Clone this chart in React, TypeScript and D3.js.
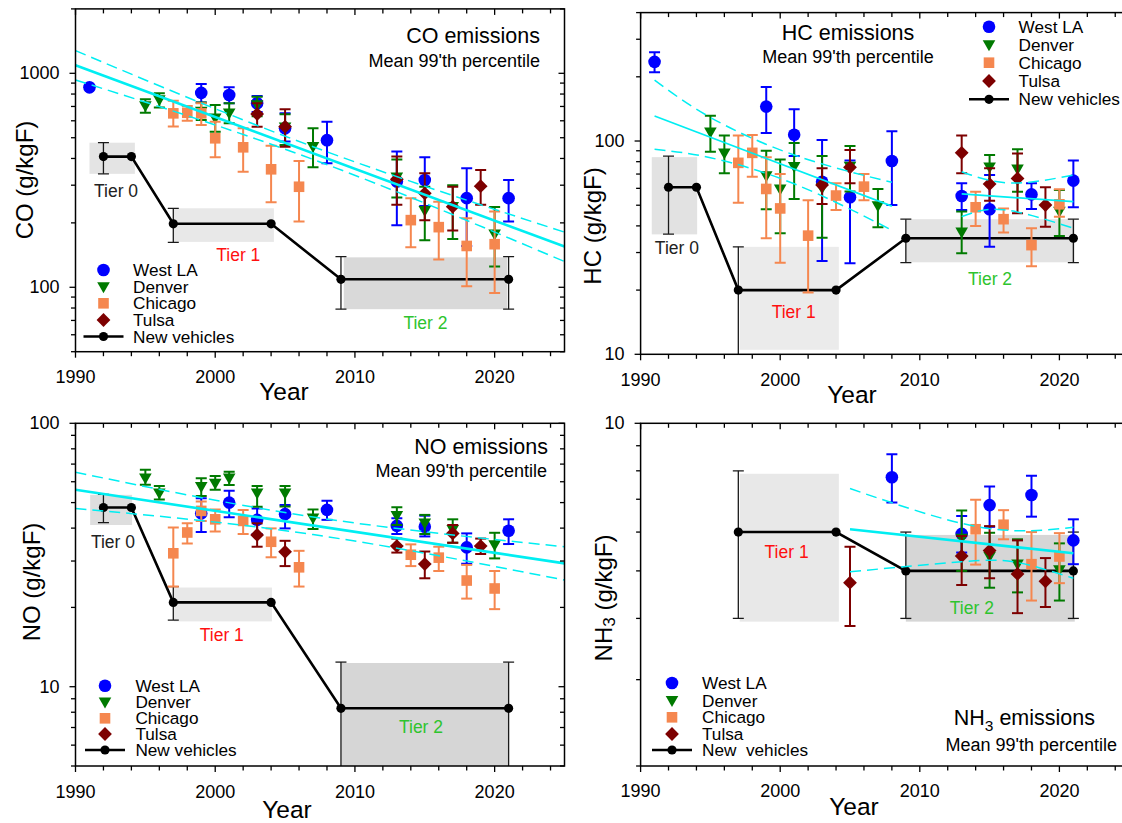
import React from 'react';
import * as d3 from 'd3';

type Pt = [number, number, number | null, number | null]; // year, value, low, high
type XY = [number, number];
type Box = [number, number, number, number]; // year0, year1, vLow, vHigh
type TierLabel = [string, number, number]; // text, year, value

// ---------------- CO ----------------
const coWestLA: Pt[] = [
  [1991, 860, null, null], [1999, 810, 730, 891], [2001, 792, 725, 860], [2003, 724, 660, 783],
  [2005, 553, 480, 650], [2008, 487, 380, 594], [2013, 312, 195, 431], [2015, 317, 240, 405],
  [2018, 261, 156, 360], [2021, 261, 203, 317],
];
const coDenver: Pt[] = [
  [1995, 703, 655, 756], [1996, 750, 693, 807], [1999, 662, 605, 730], [2000, 617, 533, 711],
  [2001, 650, 584, 724], [2003, 711, 630, 778], [2005, 560, 462, 643], [2007, 454, 364, 553],
  [2013, 327, 263, 396], [2015, 228, 166, 295], [2017, 238, 168, 300], [2020, 177, 125, 237],
];
const coChicago: Pt[] = [
  [1997, 650, 564, 745], [1998, 654, 600, 703], [1999, 650, 573, 724], [2000, 497, 405, 594],
  [2002, 451, 347, 553], [2004, 356, 250, 459], [2006, 295, 203, 389], [2014, 206, 154, 261],
  [2016, 191, 135, 251], [2018, 156, 101, 210], [2020, 159, 94, 226],
];
const coTulsa: Pt[] = [
  [2003, 645, 563, 724], [2005, 563, 454, 680], [2013, 320, 243, 408], [2015, 275, 206, 341],
  [2017, 238, 184, 295], [2019, 297, 243, 353],
];
const coNew: Pt[] = [
  [1992, 408, 339, 474], [1994, 408, null, null], [1997, 198, 162, 234], [2004, 198, null, null],
  [2009, 109, 79, 139], [2021, 109, 79, 139],
];
const coBoxes: Box[] = [[1991, 1994.25, 339, 474], [1997.05, 2004.2, 163, 234], [2009.2, 2020.9, 79, 138]];
const coFitMid: XY[] = [[1990, 1090], [2025, 155]];
const coFitHi: XY[] = [[1990, 1276], [2007, 454], [2025, 181]];
const coFitLo: XY[] = [[1990, 931], [2007, 396], [2025, 132]];
const coTierLabels: TierLabel[] = [['Tier 0', 1992.9, 282], ['Tier 1', 2001.65, 141.6], ['Tier 2', 2015.05, 68.3]];

// ---------------- HC ----------------
const hcWestLA: Pt[] = [
  [1991, 235, 210, 261], [1999, 145, 109, 179], [2001, 107, 85, 141], [2003, 64.4, 27.4, 101],
  [2005, 54.5, 26.7, 81], [2008, 80.6, 50.1, 111], [2013, 55.2, 47.5, 63.4], [2015, 47.9, 31.9, 69.3],
  [2018, 56.2, 48, 63.4], [2021, 65.2, 48.9, 81],
];
const hcDenver: Pt[] = [
  [1995, 110, 89, 131.5], [1996, 87.5, 70.6, 106], [1999, 68.5, 47.9, 90], [2000, 59.3, 36.9, 82],
  [2001, 75.8, 53.5, 98], [2003, 60, 35.2, 85], [2005, 76, 58, 94.8], [2007, 49.5, 39.4, 59.6],
  [2013, 37.3, 29.8, 46.7], [2015, 75.3, 63, 86], [2017, 73.6, 57.8, 91.4], [2020, 46.7, 35.9, 58.9],
];
const hcChicago: Pt[] = [
  [1997, 79, 51.4, 106], [1998, 88, 68, 106.7], [1999, 59.6, 35, 84], [2000, 48.3, 26.9, 70],
  [2002, 36, 19.5, 52.8], [2004, 55.5, 47.5, 63.4], [2006, 61.1, 52.8, 70], [2014, 48.9, 39.9, 57.8],
  [2016, 43, 37.2, 48.3], [2018, 32.5, 25.9, 39], [2020, 50.5, 44.2, 59.4],
];
const hcTulsa: Pt[] = [
  [2003, 62.2, 50.7, 74.5], [2005, 75.3, 63.4, 90.8], [2013, 88, 70.6, 106], [2015, 62.8, 52.5, 74.5],
  [2017, 66.8, 45.8, 87.5], [2019, 50.1, 39.6, 60.7],
];
const hcNew: Pt[] = [
  [1992, 60.7, 36.6, 85], [1994, 60.7, null, null], [1997, 20, 9, 31.9], [2004, 20, null, null],
  [2009, 35, 26.9, 43], [2021, 35, 26.9, 43],
];
const hcBoxes: Box[] = [[1990.8, 1994.05, 36.5, 84], [1997.1, 2004.2, 10.5, 31.9], [2009, 2021.1, 27, 43]];
const hcFit1Mid: XY[] = [[1991, 131], [2008, 49.5]];
const hcFit1Hi: XY[] = [[1991, 193], [1995, 129], [2001, 86], [2008, 64]];
const hcFit1Lo: XY[] = [[1991, 91.4], [1995, 83.5], [2001, 63], [2008, 38.2]];
const hcFit2Mid: XY[] = [[2013, 56.5], [2021, 52]];
const hcFit2Hi: XY[] = [[2013, 71.8], [2016.5, 63.5], [2021, 69.3]];
const hcFit2Lo: XY[] = [[2013, 44.2], [2016, 47.6], [2021, 39]];
const hcTierLabels: TierLabel[] = [['Tier 0', 1992.6, 31.4], ['Tier 1', 2000.97, 15.85], ['Tier 2', 2015.03, 22.5]];

// ---------------- NO ----------------
const noWestLA: Pt[] = [
  [1999, 45.5, 38.7, 51.9], [2001, 50, 44, 55.5], [2003, 43, 38, 47.5], [2005, 45.2, 39.9, 49],
  [2008, 46.9, 43, 50.8], [2013, 40.8, 38, 43.6], [2015, 40.5, 37.2, 44.6], [2018, 33.8, 29.3, 38.2],
  [2021, 39.1, 34.8, 43.2],
];
const noDenver: Pt[] = [
  [1995, 61.8, 58.4, 66.6], [1996, 54.2, 51.4, 57.8], [1999, 57.4, 53, 61.8], [2000, 59.1, 55.9, 63.1],
  [2001, 61.8, 58.3, 65.5], [2003, 54.2, 48.2, 57.8], [2005, 54.2, 48.3, 57.8], [2007, 43.6, 39.7, 47.1],
  [2013, 44.5, 41.1, 48], [2015, 41.7, 38, 44.9], [2017, 39.4, 35.2, 43.2], [2020, 34.5, 30.7, 38.4],
];
const noChicago: Pt[] = [
  [1997, 32.1, 24, 40.2], [1998, 38.5, 35, 41.7], [1999, 46.5, 42.6, 50.5], [2000, 43.2, 38.8, 47.1],
  [2002, 42.6, 38, 46.9], [2004, 35.5, 31, 39.9], [2006, 28.4, 24, 32.8], [2014, 31.7, 28.7, 34.7],
  [2016, 30.9, 27.5, 34], [2018, 25.3, 21.6, 29], [2020, 23.6, 19.7, 27.5],
];
const noTulsa: Pt[] = [
  [2003, 37.7, 34, 41.7], [2005, 32.5, 28.7, 35.8], [2013, 34.2, 32.3, 36.5], [2015, 29.2, 25.8, 32.6],
  [2017, 38.2, 35.2, 41.1], [2019, 34.2, 31.9, 36.5],
];
const noNew: Pt[] = [
  [1992, 47.9, 42, 53.7], [1994, 47.9, null, null], [1997, 20.9, 17.9, 24], [2004, 20.9, null, null],
  [2009, 8.28, 4, 12.4], [2021, 8.28, 4, 12.4],
];
const noBoxes: Box[] = [[1991.05, 1994.05, 41.1, 53.5], [1997.05, 2004.06, 17.7, 23.8], [2009, 2021, 4, 12.3]];
const noFitMid: XY[] = [[1990, 55.9], [2025, 29.4]];
const noFitHi: XY[] = [[1990, 65.2], [2007, 44.1], [2025, 34]];
const noFitLo: XY[] = [[1990, 47.5], [2007, 37.8], [2025, 25.4]];
const noTierLabels: TierLabel[] = [['Tier 0', 1992.68, 35.5], ['Tier 1', 2000.47, 15.7], ['Tier 2', 2014.73, 7.05]];

// ---------------- NH3 ----------------
const nhWestLA: Pt[] = [
  [2008, 7.76, 6.89, 8.65], [2013, 5.95, 5.45, 6.47], [2015, 6.81, 6.15, 7.43], [2018, 7.14, 6.45, 7.82],
  [2021, 5.77, 5.16, 6.37],
];
const nhDenver: Pt[] = [
  [2013, 5.82, 5.0, 6.64], [2015, 5.35, 4.62, 5.98], [2017, 5.16, 4.52, 5.8], [2020, 5.02, 4.35, 5.69],
];
const nhChicago: Pt[] = [
  [2014, 6.08, 5.15, 6.98], [2016, 6.21, 5.8, 6.65], [2018, 5.16, 4.35, 6.0], [2020, 5.35, 4.72, 5.97],
];
const nhTulsa: Pt[] = [
  [2005, 4.73, 3.86, 5.6], [2013, 5.36, 4.68, 5.89], [2015, 5.5, 4.83, 6.17], [2017, 4.93, 4.1, 5.77],
  [2019, 4.76, 4.22, 5.31],
];
const nhNew: Pt[] = [
  [1997, 6, 4, 8], [2004, 6, null, null], [2009, 5, 4, 6], [2021, 5, 4, 6],
];
const nhBoxes: Box[] = [[1997.1, 2004.2, 3.94, 7.89], [2009, 2021.1, 3.94, 5.92]];
const nhFitMid: XY[] = [[2005, 6.08], [2021, 5.43]];
const nhFitHi: XY[] = [[2005, 7.36], [2013, 6.25], [2018, 6.04], [2021, 6.14]];
const nhFitLo: XY[] = [[2005, 4.98], [2013, 5.22], [2017, 5.2], [2021, 4.83]];
const nhTierLabels: TierLabel[] = [['Tier 1', 2000.46, 5.47], ['Tier 2', 2013.73, 4.21]];

const legendNames = ['West LA', 'Denver', 'Chicago', 'Tulsa'];
const xMajorTicks = [1990, 2000, 2010, 2020];

// ---------------- styles ----------------
const FONT = '"Liberation Sans", Arial, Helvetica, sans-serif';
const SERIES_STYLE = [
  { color: '#0000ff', shape: 'circle' },
  { color: '#007a00', shape: 'tri' },
  { color: '#f5874f', shape: 'square' },
  { color: '#7d0000', shape: 'diamond' },
];
const FIT_COLOR = '#00eef2';
const TIER_COLORS: Record<string, string> = { 'Tier 0': '#222222', 'Tier 1': '#ff1010', 'Tier 2': '#2ec42e' };

type Fit = { mid: XY[]; hi: XY[]; lo: XY[] };
type PanelCfg = {
  id: string;
  x0: number; x1: number; yTop: number; yBot: number;
  yDomain: [number, number];
  series: Pt[][];
  newV: Pt[];
  boxes: Box[];
  boxFills: string[];
  fits: Fit[];
  fitWidth: number;
  tiers: TierLabel[];
  tickLabelY: number;
  yearX: number; yearY: number;
  ylabX: number; ylabY: number; ylab: React.ReactNode;
  title: React.ReactNode; titleX: number; titleY: number;
  sub: string; subX: number; subY: number; anchor: 'start' | 'middle' | 'end';
  legX: number; legTX: number; legRows: number[]; newLabel: string;
};

function Marker({ shape, cx, cy, color }: { shape: string; cx: number; cy: number; color: string }) {
  if (shape === 'circle') return <circle cx={cx} cy={cy} r={6.3} fill={color} />;
  if (shape === 'tri')
    return <path d={`M${cx - 6.3},${cy - 4.8}L${cx + 6.3},${cy - 4.8}L${cx},${cy + 6.2}Z`} fill={color} />;
  if (shape === 'square') return <rect x={cx - 5.3} y={cy - 5.3} width={10.6} height={10.6} fill={color} />;
  return <path d={`M${cx},${cy - 6.9}L${cx + 6.9},${cy}L${cx},${cy + 6.9}L${cx - 6.9},${cy}Z`} fill={color} />;
}

function ErrorBar({ cx, y1, y2, color, w, cap }: { cx: number; y1: number; y2: number; color: string; w: number; cap: number }) {
  return (
    <g stroke={color} strokeWidth={w}>
      <line x1={cx} x2={cx} y1={y1} y2={y2} />
      <line x1={cx - cap} x2={cx + cap} y1={y1} y2={y1} />
      <line x1={cx - cap} x2={cx + cap} y1={y2} y2={y2} />
    </g>
  );
}

function Panel({ c }: { c: PanelCfg }) {
  const x = d3.scaleLinear().domain([1990, 2025]).range([c.x0, c.x1]);
  const y = d3.scaleLog().domain(c.yDomain).range([c.yBot, c.yTop]);
  const yTicks = y.ticks();
  const isMajor = (v: number) => Math.abs(Math.log10(v) - Math.round(Math.log10(v))) < 1e-9;
  const xMinor = d3.range(1990, 2025, 2);
  const line = d3.line<XY>().x((d) => x(d[0])).y((d) => y(d[1]));
  const curve = d3.line<XY>().x((d) => x(d[0])).y((d) => y(d[1])).curve(d3.curveNatural);
  const clipId = `clip-${c.id}`;
  const newPath = d3.line<Pt>().x((d) => x(d[0])).y((d) => y(d[1]))(c.newV) || '';

  return (
    <g>
      <defs>
        <clipPath id={clipId}>
          <rect x={c.x0} y={c.yTop} width={c.x1 - c.x0} height={c.yBot - c.yTop} />
        </clipPath>
      </defs>
      <g clipPath={`url(#${clipId})`}>
        {c.boxes.map((b, i) => (
          <rect key={i} x={x(b[0])} width={x(b[1]) - x(b[0])} y={y(b[3])} height={y(b[2]) - y(b[3])} fill={c.boxFills[i]} />
        ))}
        <path d={newPath} fill="none" stroke="#000" strokeWidth={2.6} />
        {c.newV.map((d, i) => (
          <g key={i}>
            {d[2] != null && d[3] != null && (
              <ErrorBar cx={x(d[0])} y1={y(d[2])} y2={y(d[3])} color="#1a1a1a" w={1.3} cap={5.5} />
            )}
            <circle cx={x(d[0])} cy={y(d[1])} r={4.6} fill="#000" />
          </g>
        ))}
        {c.series.map((s, si) => (
          <g key={si}>
            {s.map((d, i) => {
              const st = SERIES_STYLE[si];
              return (
                <g key={i}>
                  {d[2] != null && d[3] != null && (
                    <ErrorBar cx={x(d[0])} y1={y(d[2])} y2={y(d[3])} color={st.color} w={2} cap={5.5} />
                  )}
                  <Marker shape={st.shape} cx={x(d[0])} cy={y(d[1])} color={st.color} />
                </g>
              );
            })}
          </g>
        ))}
        {c.fits.map((f, i) => (
          <g key={i} fill="none" stroke={FIT_COLOR}>
            <path d={line(f.mid) || ''} strokeWidth={c.fitWidth} />
            <path d={curve(f.hi) || ''} strokeWidth={1.5} strokeDasharray="11,6" />
            <path d={curve(f.lo) || ''} strokeWidth={1.5} strokeDasharray="11,6" />
          </g>
        ))}
      </g>
      <rect x={c.x0} y={c.yTop} width={c.x1 - c.x0} height={c.yBot - c.yTop} fill="none" stroke="#000" strokeWidth={1.5} />
      <g stroke="#000" strokeWidth={1.3}>
        {xMinor.map((t) => {
          const len = xMajorTicks.includes(t) ? 6 : 4.5;
          return (
            <g key={t}>
              <line x1={x(t)} x2={x(t)} y1={c.yBot} y2={c.yBot + len} />
              <line x1={x(t)} x2={x(t)} y1={c.yTop} y2={c.yTop + len} />
            </g>
          );
        })}
        {yTicks.map((t) => {
          const len = isMajor(t) ? 6 : 4.5;
          return (
            <g key={t}>
              <line x1={c.x0 - len} x2={c.x0} y1={y(t)} y2={y(t)} />
              <line x1={c.x1 - len} x2={c.x1} y1={y(t)} y2={y(t)} />
            </g>
          );
        })}
      </g>
      <g fontFamily={FONT} fontSize={18} fill="#000">
        {xMajorTicks.map((t) => (
          <text key={t} x={x(t)} y={c.tickLabelY} textAnchor="middle">{t}</text>
        ))}
        {yTicks.filter(isMajor).map((t) => (
          <text key={t} x={c.x0 - 16} y={y(t)} textAnchor="end" dominantBaseline="central">{t}</text>
        ))}
      </g>
      <text x={c.yearX} y={c.yearY} fontFamily={FONT} fontSize={24.5} textAnchor="middle">Year</text>
      <text
        transform={`translate(${c.ylabX},${c.ylabY}) rotate(-90)`}
        fontFamily={FONT}
        fontSize={24}
        textAnchor="middle"
        dominantBaseline="central"
      >
        {c.ylab}
      </text>
      <text x={c.titleX} y={c.titleY} fontFamily={FONT} fontSize={21.5} textAnchor={c.anchor}>{c.title}</text>
      <text x={c.subX} y={c.subY} fontFamily={FONT} fontSize={18} textAnchor={c.anchor}>{c.sub}</text>
      {c.tiers.map(([t, yr, v]) => (
        <text key={t} x={x(yr)} y={y(v)} fontFamily={FONT} fontSize={17.5} fill={TIER_COLORS[t]} textAnchor="middle" dominantBaseline="central">
          {t}
        </text>
      ))}
      <g fontFamily={FONT} fontSize={17.2}>
        {legendNames.map((n, i) => (
          <g key={n}>
            <Marker shape={SERIES_STYLE[i].shape} cx={c.legX} cy={c.legRows[i]} color={SERIES_STYLE[i].color} />
            <text x={c.legTX} y={c.legRows[i]} dominantBaseline="central">{n}</text>
          </g>
        ))}
        <line x1={c.legX - 20} x2={c.legX + 20} y1={c.legRows[4]} y2={c.legRows[4]} stroke="#000" strokeWidth={2.6} />
        <circle cx={c.legX} cy={c.legRows[4]} r={4.6} fill="#000" />
        <text x={c.legTX} y={c.legRows[4]} dominantBaseline="central" style={{ whiteSpace: 'pre' }}>{c.newLabel}</text>
      </g>
    </g>
  );
}

const panels: PanelCfg[] = [
  {
    id: 'co', x0: 75.5, x1: 564.5, yTop: 8.9, yBot: 351.7, yDomain: [50, 2000],
    series: [coWestLA, coDenver, coChicago, coTulsa], newV: coNew,
    boxes: coBoxes, boxFills: ['#e4e4e4', '#e8e8e8', '#d9d9d9'],
    fits: [{ mid: coFitMid, hi: coFitHi, lo: coFitLo }], fitWidth: 2.6,
    tiers: coTierLabels, tickLabelY: 383, yearX: 284, yearY: 400, ylabX: 24, ylabY: 180, ylab: 'CO (g/kgF)',
    title: 'CO emissions', titleX: 540, titleY: 43, sub: "Mean 99'th percentile", subX: 540, subY: 67, anchor: 'end',
    legX: 103.5, legTX: 133, legRows: [270, 287, 303.3, 320, 336.5], newLabel: 'New vehicles',
  },
  {
    id: 'hc', x0: 640.6, x1: 1129.2, yTop: 12.6, yBot: 354.3, yDomain: [10, 400],
    series: [hcWestLA, hcDenver, hcChicago, hcTulsa], newV: hcNew,
    boxes: hcBoxes, boxFills: ['#e2e2e2', '#ebebeb', '#e3e3e3'],
    fits: [
      { mid: hcFit1Mid, hi: hcFit1Hi, lo: hcFit1Lo },
      { mid: hcFit2Mid, hi: hcFit2Hi, lo: hcFit2Lo },
    ],
    fitWidth: 1.7,
    tiers: hcTierLabels, tickLabelY: 386, yearX: 852, yearY: 403, ylabX: 592, ylabY: 226, ylab: 'HC (g/kgF)',
    title: 'HC emissions', titleX: 848, titleY: 40, sub: "Mean 99'th percentile", subX: 848, subY: 63, anchor: 'middle',
    legX: 989, legTX: 1018.6, legRows: [26.7, 45, 62.7, 81, 99.3], newLabel: 'New vehicles',
  },
  {
    id: 'no', x0: 75.5, x1: 564.5, yTop: 423.3, yBot: 766, yDomain: [5, 100],
    series: [noWestLA, noDenver, noChicago, noTulsa], newV: noNew,
    boxes: noBoxes, boxFills: ['#dedede', '#e8e8e8', '#d6d6d6'],
    fits: [{ mid: noFitMid, hi: noFitHi, lo: noFitLo }], fitWidth: 2.6,
    tiers: noTierLabels, tickLabelY: 798, yearX: 287, yearY: 818, ylabX: 31, ylabY: 582, ylab: 'NO (g/kgF)',
    title: 'NO emissions', titleX: 548, titleY: 454, sub: "Mean 99'th percentile", subX: 547, subY: 477, anchor: 'end',
    legX: 105, legTX: 135.4, legRows: [685.7, 702.3, 718.3, 734, 750], newLabel: 'New vehicles',
  },
  {
    id: 'nh3', x0: 640.6, x1: 1129.2, yTop: 423.3, yBot: 766, yDomain: [2, 10],
    series: [nhWestLA, nhDenver, nhChicago, nhTulsa], newV: nhNew,
    boxes: nhBoxes, boxFills: ['#e8e8e8', '#d6d6d6'],
    fits: [{ mid: nhFitMid, hi: nhFitHi, lo: nhFitLo }], fitWidth: 2.6,
    tiers: nhTierLabels, tickLabelY: 797, yearX: 854, yearY: 815, ylabX: 603, ylabY: 598,
    ylab: (
      <>
        NH<tspan dy={6} fontSize={17}>3</tspan>
        <tspan dy={-6}> (g/kgF)</tspan>
      </>
    ),
    title: (
      <>
        NH<tspan dy={6} fontSize={15.5}>3</tspan>
        <tspan dy={-6}> emissions</tspan>
      </>
    ),
    titleX: 1095, titleY: 725, sub: "Mean 99'th percentile", subX: 1117, subY: 751, anchor: 'end',
    legX: 672, legTX: 702, legRows: [683, 700.7, 717.3, 734, 750], newLabel: 'New  vehicles',
  },
];

export default function App() {
  return (
    <svg
      width={1122}
      height={823}
      viewBox="0 0 1122 823"
      style={{ position: 'absolute', left: 0, top: 0, background: '#fff' }}
    >
      <rect x={0} y={0} width={1122} height={823} fill="#fff" />
      {panels.map((p) => (
        <Panel key={p.id} c={p} />
      ))}
    </svg>
  );
}
